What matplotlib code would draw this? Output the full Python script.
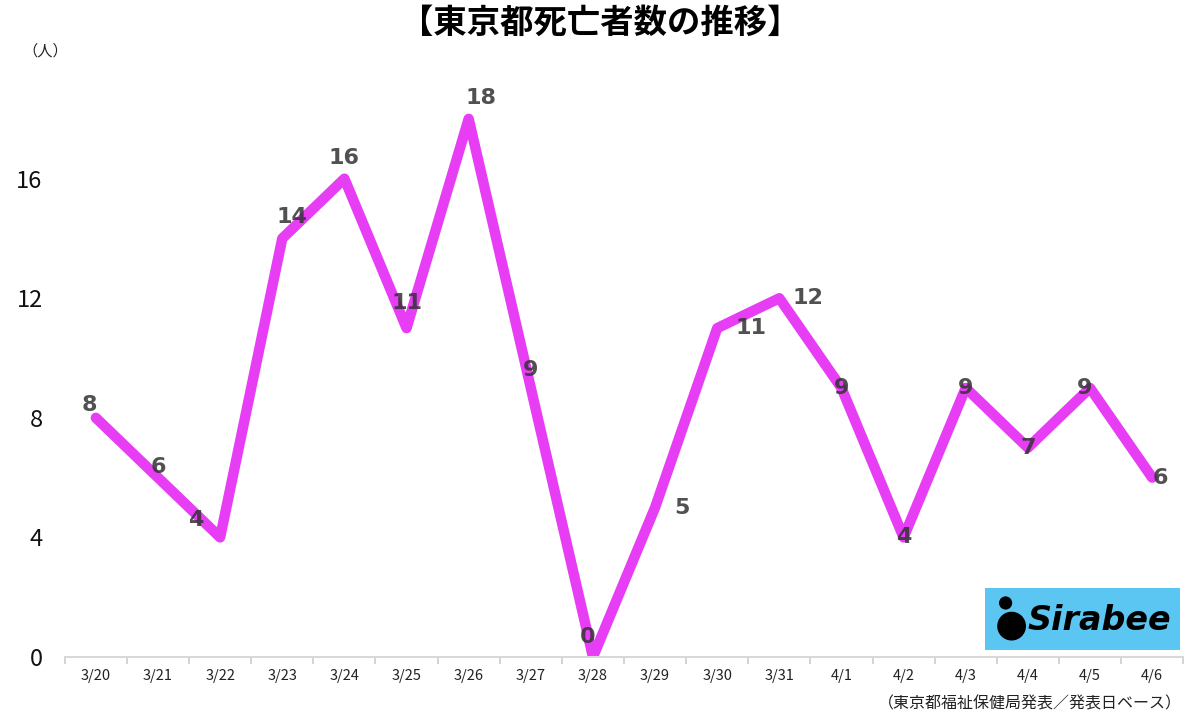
import matplotlib.pyplot as plt
import numpy as np
from matplotlib.patches import Rectangle, Ellipse

plt.rcParams['font.family'] = ['Noto Sans CJK JP', 'DejaVu Sans']

# データ
dates = ['3/20', '3/21', '3/22', '3/23', '3/24', '3/25', '3/26', '3/27', '3/28',
         '3/29', '3/30', '3/31', '4/1', '4/2', '4/3', '4/4', '4/5', '4/6']
deaths = [8, 6, 4, 14, 16, 11, 18, 9, 0, 5, 11, 12, 9, 4, 9, 7, 9, 6]

# ラベルのずらし量 (pixel)
label_dx = [-6, 0, -24, 10, 0, 0, 12, 0, -5, 27, 34, 29, 0, 0, 0, 0, -5, 8]
label_dy = [13, 11, 17, 21, 21, 25, 21, 18, 20, 0, 0, 0, 0, 0, 0, 0, 0, 0]

fig = plt.figure(figsize=(12, 7.23), dpi=100)
ax = fig.add_axes([0.054, 0.0913, 0.932, 0.827])

x = np.arange(len(dates))
ax.plot(x, deaths, color='#E63DF5', lw=7.5, solid_joinstyle='round',
        solid_capstyle='round', zorder=2)

for i, v in enumerate(deaths):
    ax.annotate(str(v), (x[i], v), xytext=(label_dx[i], label_dy[i]),
                textcoords='offset pixels', ha='center', va='center',
                fontsize=16, fontweight='bold', color='#333333', alpha=0.85,
                family='DejaVu Sans', zorder=3)

ax.set_xlim(-0.5, len(dates) - 0.5)
ax.set_ylim(0, 20)
ax.set_yticks([0, 4, 8, 12, 16])
ax.set_yticklabels(['0', '4', '8', '12', '16'], fontsize=17, color='#111111')
ax.tick_params(axis='y', length=0, pad=16)

ax.set_xticks(np.arange(len(dates) + 1) - 0.5)
ax.set_xticklabels([])
ax.set_xticks(x, minor=True)
ax.set_xticklabels(dates, minor=True, fontsize=10.5, color='#222222')
ax.tick_params(axis='x', which='major', length=5, color='#cccccc', width=1.2)
ax.tick_params(axis='x', which='minor', length=0, pad=9)

for s in ['top', 'right', 'left']:
    ax.spines[s].set_visible(False)
ax.spines['bottom'].set_color('#d8d8d8')
ax.spines['bottom'].set_linewidth(1.5)

fig.text(0.5, 0.968, '【東京都死亡者数の推移】', ha='center', va='center',
         fontsize=24, fontweight='bold', color='black')
fig.text(0.038, 0.93, '（人）', ha='center', va='center', fontsize=11, color='#222222')
fig.text(0.985, 0.027, '（東京都福祉保健局発表／発表日ベース）', ha='right', va='center',
         fontsize=11.5, color='#222222')

# ロゴ
asp = 12 / 7.23
fig.patches.append(Rectangle((0.821, 0.101), 0.162, 0.086, transform=fig.transFigure,
                             facecolor='#5CC6F2', edgecolor='none', zorder=5))
fig.patches.append(Ellipse((0.843, 0.134), 0.024, 0.024 * asp, transform=fig.transFigure,
                           facecolor='black', zorder=6))
fig.patches.append(Ellipse((0.838, 0.166), 0.011, 0.011 * asp, transform=fig.transFigure,
                           facecolor='black', zorder=6))
fig.text(0.916, 0.142, 'Sirabee', ha='center', va='center', fontsize=24,
         fontweight='bold', fontstyle='italic', family='DejaVu Sans', color='black', zorder=7)

fig.savefig('out.png', dpi=100)
